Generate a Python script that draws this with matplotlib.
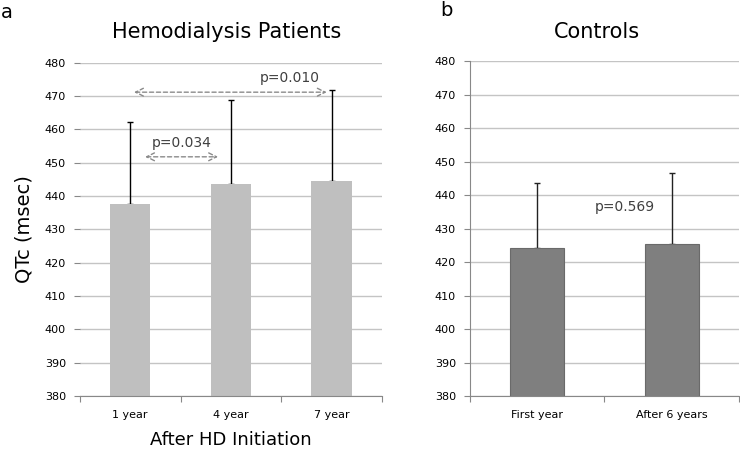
import matplotlib.pyplot as plt

# Data
hd_labels = ['1 year', '4 year', '7 year']
hd_means = [437.7, 443.6, 444.5]
hd_sd = [24.6, 25.3, 27.4]

ctrl_labels = ['First year', 'After 6 years']
ctrl_means = [424.2, 425.4]
ctrl_sd = [19.4, 21.3]

yticks = list(range(380, 481, 10))

plt.rcParams['font.family'] = 'DejaVu Sans'
fig = plt.figure(figsize=(7.4, 4.49), dpi=100)
ax1 = fig.add_axes([0.108, 0.118, 0.408, 0.742])
ax2 = fig.add_axes([0.635, 0.118, 0.3635, 0.746])


def style(ax, n, left_spine):
    ax.set_ylim(380, 480)
    ax.set_xlim(-0.5, n - 0.5)
    ax.set_yticks(yticks)
    ax.yaxis.grid(True, color='#c4c4c4', linewidth=1, zorder=0)
    ax.set_axisbelow(True)
    for s in ['top', 'right']:
        ax.spines[s].set_visible(False)
    ax.spines['left'].set_visible(left_spine)
    ax.spines['left'].set_color('#888888')
    ax.spines['bottom'].set_color('#888888')
    ax.set_xticks([i - 0.5 for i in range(n + 1)], minor=False)
    ax.set_xticklabels([])
    ax.set_xticks(range(n), minor=True)
    ax.tick_params(axis='x', which='major', length=4, color='#888888')
    ax.tick_params(axis='x', which='minor', length=0, labelsize=8, pad=10)
    ax.tick_params(axis='y', length=4, color='#888888', labelsize=8, pad=6)


# Panel a
x1 = range(len(hd_labels))
ax1.bar(x1, hd_means, width=0.4, color='#bfbfbf', zorder=2)
ax1.errorbar(x1, hd_means, yerr=[[0] * 3, hd_sd], fmt='none', ecolor='black',
             elinewidth=1, capsize=2.5, capthick=1, zorder=1.5)
style(ax1, 3, False)
ax1.set_xticklabels(hd_labels, minor=True)
ax1.set_ylabel('QTc (msec)', fontsize=14, labelpad=8)
ax1.set_xlabel('After HD Initiation', fontsize=13, labelpad=8)

arrow = dict(arrowstyle='<->', linestyle=(0, (3, 2)), color='#8a8a8a', lw=1,
             mutation_scale=14)
ax1.annotate('', xy=(0.9, 451.8), xytext=(0.12, 451.8), arrowprops=arrow)
ax1.text(0.51, 456, 'p=0.034', ha='center', va='center', fontsize=10, color='#404040')
ax1.annotate('', xy=(1.98, 471.2), xytext=(0.01, 471.2), arrowprops=arrow)
ax1.text(1.585, 475.5, 'p=0.010', ha='center', va='center', fontsize=10, color='#404040')

# Panel b
x2 = range(len(ctrl_labels))
ax2.bar(x2, ctrl_means, width=0.4, color='#7f7f7f', edgecolor='#6a6a6a', linewidth=0.8, zorder=2)
ax2.errorbar(x2, ctrl_means, yerr=[[0] * 2, ctrl_sd], fmt='none', ecolor='#222222',
             elinewidth=1, capsize=2.5, capthick=1, zorder=1.5)
style(ax2, 2, True)
ax2.set_xticklabels(ctrl_labels, minor=True)
ax2.text(0.65, 436.4, 'p=0.569', ha='center', va='center', fontsize=10, color='#404040')

# Titles and panel letters
fig.text(227 / 740, 1 - 32 / 449, 'Hemodialysis Patients', ha='center', va='center', fontsize=15)
fig.text(597 / 740, 1 - 32 / 449, 'Controls', ha='center', va='center', fontsize=15)
fig.text(7 / 740, 1 - 12 / 449, 'a', ha='center', va='center', fontsize=14)
fig.text(446 / 740, 1 - 11 / 449, 'b', ha='center', va='center', fontsize=14)

fig.savefig('out.png', dpi=100)
